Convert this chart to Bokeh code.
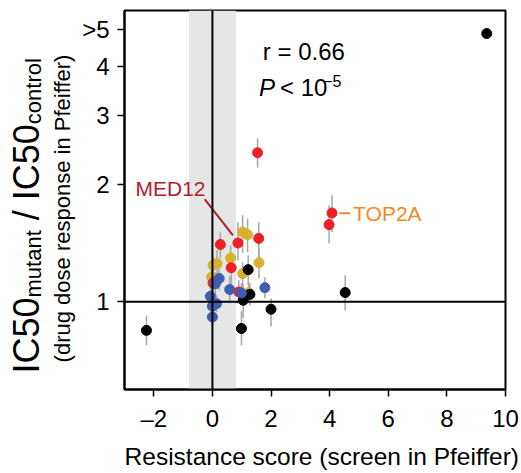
from math import pi
from bokeh.plotting import figure
from bokeh.layouts import row
from bokeh.models import FixedTicker, Span, BoxAnnotation, Label, Range1d
from bokeh.core.properties import value
from bokeh.embed import file_html
from bokeh.resources import INLINE

FONT = "Liberation Sans"

# ---------------- data ----------------
x_ticks = [-2, 0, 2, 4, 6, 8, 10]
x_tick_labels = ["\u20132", "0", "2", "4", "6", "8", "10"]
y_ticks = [1, 2, 3, 4, 5]
y_tick_labels = ["1", "2", "3", "4", ">5"]

black_x = [-2.25, 9.36, 4.53, 0.99, 2.00, 1.22, 1.05, 1.28]
black_y = [0.845, 4.87, 1.056, 0.854, 0.957, 1.209, 1.009, 1.045]
black_lo = [0.774, 4.87, 0.951, 0.774, 0.865, 1.102, 0.907, 0.980]
black_hi = [0.923, 4.87, 1.169, 0.946, 1.021, 1.316, 1.102, 1.115]

red_x = [1.54, 4.08, 3.98, 0.27, 0.87, 1.58, 0.64, 0.02, 0.90]
red_y = [2.41, 1.689, 1.577, 1.402, 1.415, 1.454, 1.223, 1.117, 1.060]
red_lo = [2.21, 1.507, 1.412, 1.293, 1.278, 1.293, 1.102, 1.027, 0.991]
red_hi = [2.62, 1.875, 1.767, 1.507, 1.599, 1.599, 1.339, 1.204, 1.135]

gold_x = [1.03, 1.20, 0.62, 1.59, 0.02, 0.16, 1.03, -0.03, 1.24]
gold_y = [1.510, 1.486, 1.295, 1.260, 1.240, 1.253, 1.181, 1.158, 1.056]
gold_lo = [1.331, 1.339, 1.190, 1.149, 1.169, 1.156, 1.089, 1.096, 0.991]
gold_hi = [1.666, 1.636, 1.396, 1.371, 1.316, 1.355, 1.262, 1.218, 1.122]

blue_x = [0.23, 0.10, 0.59, 0.99, 1.79, -0.07, 0.14, 0.00, 0.00]
blue_y = [1.147, 1.113, 1.075, 1.053, 1.087, 1.033, 0.989, 0.974, 0.914]
blue_lo = [1.070, 1.039, 0.991, 0.991, 1.021, 0.968, 0.940, 0.923, 0.871]
blue_hi = [1.218, 1.190, 1.162, 1.115, 1.156, 1.102, 1.039, 1.027, 0.962]

band_left, band_right = -0.8, 0.8
med12_point = (0.87, 1.415)
top2a_point = (4.08, 1.689)

W, H = 521, 473
TW = 76            # width of the strip holding the rotated y-axis title
TOP, BOTTOM = 10, 84  # borders around the plotting frame

# ---------------- main figure ----------------
p = figure(width=W - TW, height=H, output_backend="svg", toolbar_location=None,
           x_range=Range1d(-3, 10), y_range=Range1d(0.596, 5.58), y_axis_type="log",
           min_border_left=124 - TW, min_border_right=16, min_border_top=TOP,
           min_border_bottom=BOTTOM)
p.background_fill_color = "white"
p.border_fill_color = "white"
p.xgrid.visible = False
p.ygrid.visible = False
p.outline_line_color = "black"
p.outline_line_width = 2

for ax in (p.xaxis[0], p.yaxis[0]):
    ax.axis_line_width = 2
    ax.axis_line_color = "black"
    ax.major_tick_line_width = 1.5
    ax.major_tick_line_color = "black"
    ax.major_tick_out = 7
    ax.major_tick_in = 0
    ax.minor_tick_line_color = None
    ax.major_label_text_font = FONT
    ax.major_label_text_font_size = "24px"
    ax.major_label_text_color = "black"

p.xaxis.ticker = FixedTicker(ticks=x_ticks)
p.xaxis.major_label_overrides = {t: l for t, l in zip(x_ticks, x_tick_labels)}
p.xaxis.major_label_standoff = 8
# leading no-break spaces nudge the centred title a little to the right
p.xaxis.axis_label = "\u00a0\u00a0Resistance score (screen in Pfeiffer)"
p.xaxis.axis_label_text_font = FONT
p.xaxis.axis_label_text_font_size = "24.5px"
p.xaxis.axis_label_text_font_style = "normal"
p.xaxis.axis_label_text_color = "black"
p.xaxis.axis_label_standoff = 8

p.yaxis.ticker = FixedTicker(ticks=y_ticks)
p.yaxis.major_label_overrides = {t: l for t, l in zip(y_ticks, y_tick_labels)}
p.yaxis.major_label_standoff = 8

# shaded band and reference lines
p.add_layout(BoxAnnotation(left=band_left, right=band_right, fill_color="#e5e6e6",
                           fill_alpha=1.0, line_color=None, level="underlay"))
p.add_layout(Span(location=0, dimension="height", line_color="black", line_width=2))
p.add_layout(Span(location=1, dimension="width", line_color="black", line_width=2))

# error bars
for xs, lo, hi in ((gold_x, gold_lo, gold_hi), (red_x, red_lo, red_hi),
                   (black_x, black_lo, black_hi), (blue_x, blue_lo, blue_hi)):
    p.segment(x0=xs, y0=lo, x1=xs, y1=hi, line_color="#a6a6a6", line_width=1.5)

# points
for xs, ys, col in ((gold_x, gold_y, "#d8b22c"), (red_x, red_y, "#ee2024"),
                    (black_x, black_y, "black"), (blue_x, blue_y, "#3c5db0")):
    p.scatter(xs, ys, size=10, fill_color=col, line_color=col)

# MED12 annotation
p.segment(x0=[-0.26], y0=[1.83], x1=[med12_point[0] - 0.17], y1=[med12_point[1] + 0.065],
          line_color="#b22029", line_width=2)
p.add_layout(Label(x=-1.43, y=1.954, text="MED12", text_font=FONT, text_font_size="21px",
                   text_color="#b22029", text_align="center", text_baseline="middle"))

# TOP2A annotation
p.segment(x0=[4.33], y0=[1.686], x1=[4.70], y1=[1.686], line_color="#f58a1f", line_width=2)
p.add_layout(Label(x=4.80, y=1.686, text="TOP2A", text_font=FONT, text_font_size="21px",
                   text_color="#f58a1f", text_align="left", text_baseline="middle"))

# statistics
p.add_layout(Label(x=1.72, y=4.37, text="r = 0.66", text_font=FONT, text_font_size="24px",
                   text_color="black", text_align="left", text_baseline="middle"))
p.add_layout(Label(x=1.59, y=3.545, text="P", text_font=FONT, text_font_size="24px",
                   text_font_style="italic", text_color="black", text_align="left",
                   text_baseline="middle"))
p.add_layout(Label(x=1.59, y=3.545, x_offset=21, text="< 10", text_font=FONT,
                   text_font_size="24px", text_color="black", text_align="left",
                   text_baseline="middle"))
p.add_layout(Label(x=3.78, y=3.69, text="\u22125", text_font=FONT, text_font_size="16px",
                   text_color="black", text_align="left", text_baseline="middle"))

# ---------------- y-axis title strip ----------------
# the row aligns this strip's frame with the main frame, so its y range is
# expressed as pixels measured from the bottom of the canvas
t = figure(width=TW, height=H, output_backend="svg", toolbar_location=None,
           x_range=Range1d(0, TW), y_range=Range1d(BOTTOM, H - TOP),
           x_axis_location=None, y_axis_location=None,
           min_border_left=0, min_border_right=0, min_border_top=TOP,
           min_border_bottom=BOTTOM)
t.outline_line_color = None
t.xgrid.visible = False
t.ygrid.visible = False
t.background_fill_color = "white"
t.border_fill_color = "white"

main_fs, sub_fs = 36, 22
pieces = [("IC50", main_fs, 25.5), ("mutant", sub_fs, 32.5),
          ("\u00a0/\u00a0IC50", main_fs, 25.5), ("control", sub_fs, 32.5)]
em = {"IC50": 2.112, "mutant": 3.057, "\u00a0/\u00a0IC50": 2.946, "control": 3.001}
ypix = 373.0  # bottom of the title, in pixels from the top
for txt, fs, xc in pieces:
    t.text(x=[xc], y=[H - ypix], text=[txt], angle=pi / 2, text_font=value(FONT),
           text_font_size=f"{fs}px", text_color="black", text_align="left",
           text_baseline="middle")
    ypix -= em[txt] * fs
t.text(x=[61.5], y=[H - 208], text=["(drug dose response in Pfeiffer)"], angle=pi / 2,
       text_font=value(FONT), text_font_size="22px", text_color="black",
       text_align="center", text_baseline="middle")

layout = row(t, p)
open("out.html", "w").write(file_html(layout, INLINE))
